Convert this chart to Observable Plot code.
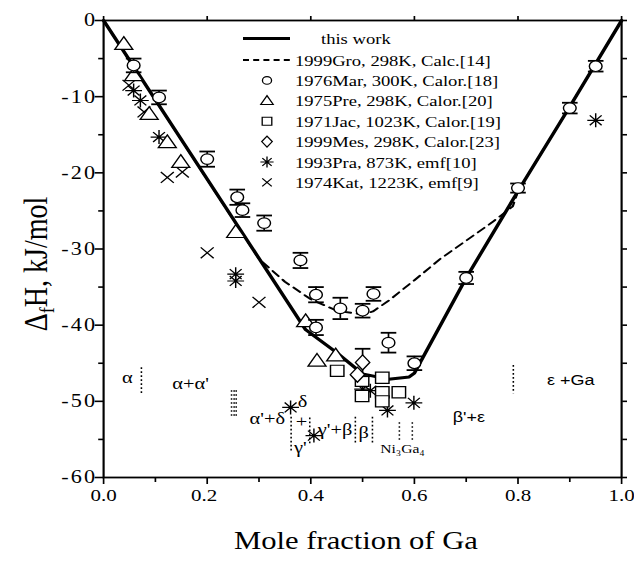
<!DOCTYPE html>
<html><head><meta charset="utf-8">
<script src="https://cdn.jsdelivr.net/npm/d3@7"></script>
<script src="https://cdn.jsdelivr.net/npm/@observablehq/plot@0.6"></script>
<style>html,body{margin:0;padding:0;background:#fff}#chart{position:relative;width:634px;height:565px;overflow:hidden}</style>
</head><body><div id="chart"></div>
<script>
// ---- data ----
const thisWorkX = [0, 0.39, 0.45, 0.5, 0.55, 0.59, 0.6, 0.7, 0.8, 0.9, 1.0];
const thisWorkY = [0, -40.6, -43.6, -46.4, -47.1, -46.8, -46.3, -33.8, -22.4, -11.3, 0];
const groX = [0, 0.3, 0.35, 0.4, 0.45, 0.5, 0.52, 0.55, 0.6, 0.65, 0.7, 0.75, 0.79, 0.8, 0.9, 1.0];
const groY = [0, -31.3, -34.3, -36.6, -38.1, -38.6, -38.2, -36.8, -34.1, -31.3, -28.9, -26.5, -24.4, -22.4, -11.3, 0];
const marX = [0.058, 0.107, 0.2, 0.258, 0.268, 0.31, 0.38, 0.41, 0.41, 0.457, 0.5, 0.521, 0.55, 0.6, 0.7, 0.8, 0.9, 0.95];
const marY = [-5.9, -10.1, -18.2, -23.2, -24.9, -26.6, -31.5, -36, -40.3, -37.8, -38.1, -35.9, -42.3, -45, -33.8, -22, -11.5, -6];
const marE = [0.9, 0.9, 1.0, 1.0, 0.9, 1.0, 1.0, 1.0, 1.0, 1.4, 0.9, 0.9, 1.3, 0.9, 0.8, 0.6, 0.7, 0.7];
const preX = [0.039, 0.058, 0.088, 0.123, 0.149, 0.255, 0.39, 0.412, 0.448];
const preY = [-3.1, -7.2, -12.3, -16, -18.6, -27.8, -39.5, -44.7, -44];
const jacX = [0.451, 0.499, 0.499, 0.538, 0.538, 0.538, 0.57];
const jacY = [-46, -49.3, -47.3, -46.9, -48.8, -50, -48.8];
const mesX = [0.5, 0.49];
const mesY = [-44.9, -46.5];
const mesE = [1.8, 0];
const praX = [0.058, 0.071, 0.107, 0.255, 0.255, 0.361, 0.406, 0.5, 0.515, 0.548, 0.599, 0.95];
const praY = [-9.2, -10.5, -15.3, -33.3, -34.2, -50.8, -54.5, -48.4, -48.6, -51.2, -50.2, -13.1];
const katX = [0.049, 0.078, 0.123, 0.152, 0.2, 0.3];
const katY = [-8.5, -12, -20.6, -19.9, -30.5, -37];
const serifLabels = ["α", "α+α'", "α'+δ", "δ", "+", "γ'", "γ'+β", "β"];
const serifX = [0.046, 0.168, 0.316, 0.384, 0.382, 0.38, 0.447, 0.502];
const serifY = [-46.9, -47.7, -52.3, -50.0, -52.6, -56.1, -53.7, -54.1];
const sansLabels = ["β'+ε", "ε +Ga"];
const sansX = [0.705, 0.902];
const sansY = [-52.1, -47.2];
const niX = [0.577], niY = [-56.3];
const boundX = [0.073, 0.247, 0.252, 0.256, 0.362, 0.398, 0.486, 0.519, 0.571, 0.596, 0.791];
const boundY1 = [-45.6, -48.6, -48.6, -48.6, -52.1, -52.2, -52.1, -52.1, -52.8, -52.8, -45.3];
const boundY2 = [-49.1, -52.1, -52.1, -52.1, -56.7, -55.6, -55.6, -55.6, -55.4, -55.4, -49.0];
const legendLabels = ["this work", "1999Gro, 298K, Calc.[14]", "1976Mar, 300K, Calor.[18]", "1975Pre, 298K, Calor.[20]",
  "1971Jac, 1023K, Calor.[19]", "1999Mes, 298K, Calor.[23]", "1993Pra, 873K, emf[10]", "1974Kat, 1223K, emf[9]"];
const xTicks = [0, 0.2, 0.4, 0.6, 0.8, 1.0];
const xMinor = [0.1, 0.3, 0.5, 0.7, 0.9];
const yTicks = [0, -10, -20, -30, -40, -50, -60];
const yMinor = [-5, -15, -25, -35, -45, -55];

// ---- build tables ----
const zip = (xs, ys) => xs.map((x, i) => ({x, y: ys[i]}));
const thisWork = zip(thisWorkX, thisWorkY);
const gro = zip(groX, groY);
const mar = marX.map((x, i) => ({x, y: marY[i], e: marE[i]}));
const mes = mesX.map((x, i) => ({x, y: mesY[i], e: mesE[i]}));
const mesBars = mes.filter(d => d.e > 0);
const pre = zip(preX, preY), jac = zip(jacX, jacY), pra = zip(praX, praY), kat = zip(katX, katY);
const serifPh = serifLabels.map((t, i) => ({t, x: serifX[i], y: serifY[i]}));
const sansPh = sansLabels.map((t, i) => ({t, x: sansX[i], y: sansY[i]}));
const bounds = boundX.map((x, i) => ({x, y1: boundY1[i], y2: boundY2[i]}));

// ---- custom symbols ----
const rad = size => Math.sqrt(size / Math.PI);
const cap = {draw(ctx, size) { const w = rad(size); ctx.moveTo(-w, 0); ctx.lineTo(w, 0); }};
const star8 = {draw(ctx, size) { const r = rad(size);
  for (let k = 0; k < 4; k++) { const a = k * Math.PI / 4; ctx.moveTo(-r * Math.cos(a), -r * Math.sin(a)); ctx.lineTo(r * Math.cos(a), r * Math.sin(a)); } }};
const cross = {draw(ctx, size) { const r = rad(size) * 0.72; ctx.moveTo(-r, -r); ctx.lineTo(r, r); ctx.moveTo(r, -r); ctx.lineTo(-r, r); }};
const tri = {draw(ctx, size) { const r = rad(size); ctx.moveTo(0, -r); ctx.lineTo(r, r * 0.7); ctx.lineTo(-r, r * 0.7); ctx.closePath(); }};
const sq = {draw(ctx, size) { const r = rad(size) * 0.8; ctx.rect(-r, -r, 2 * r, 2 * r); }};
const dia = {draw(ctx, size) { const r = rad(size); ctx.moveTo(0, -r); ctx.lineTo(r * 0.8, 0); ctx.lineTo(0, r); ctx.lineTo(-r * 0.8, 0); ctx.closePath(); }};

// the reference figure is horizontally stretched: draw narrower, then stretch
const S = 1.2, W = 634 / S;
const serif = "'Liberation Serif', 'DejaVu Serif', serif";
const sans = "'Liberation Sans', Arial, sans-serif";
const open = {fill: "white", stroke: "black", strokeWidth: 1.2};

const plot = Plot.plot({
  width: W, height: 565,
  marginLeft: 103 / S, marginRight: 13 / S, marginTop: 20, marginBottom: 88,
  x: {domain: [0, 1]},
  y: {domain: [-60, 0]},
  style: {fontFamily: serif, fontSize: "18px", color: "black", background: "white", overflow: "visible"},
  marks: [
    Plot.axisX({ticks: xTicks, tickFormat: d3.format(".1f"), tickSize: 7, tickPadding: 4, label: null, fontSize: 17.5, strokeWidth: 1.4}),
    Plot.axisX({ticks: xMinor, tickFormat: () => "", tickSize: 5, label: null, strokeWidth: 1.4}),
    Plot.axisX({anchor: "top", ticks: xTicks, tickFormat: () => "", tickSize: 5, label: null, strokeWidth: 1.4}),
    Plot.axisY({ticks: yTicks, tickFormat: d => String(d), tickSize: 7, tickPadding: 0, label: null, fontSize: 18.5, strokeWidth: 1.6}),
    Plot.axisY({ticks: yMinor, tickFormat: () => "", tickSize: 4, label: null, strokeWidth: 1.6}),
    Plot.axisY({anchor: "right", ticks: yTicks.concat(yMinor), tickFormat: () => "", tickSize: 4, label: null, strokeWidth: 1.6}),
    Plot.frame({stroke: "black", strokeWidth: 1.8}),
    // phase boundaries and labels
    Plot.ruleX(bounds, {x: "x", y1: "y1", y2: "y2", stroke: "black", strokeWidth: 1.3, strokeDasharray: "1.6,2.4"}),
    Plot.text(serifPh, {x: "x", y: "y", text: "t", fontSize: 17, fill: "black"}),
    Plot.text(sansPh, {x: "x", y: "y", text: "t", fontSize: 15, fontFamily: sans, fill: "black"}),
    Plot.text(zip(niX, niY), {x: "x", y: "y", text: () => "Ni₃Ga₄", fontSize: 13, fill: "black"}),
    // curves
    Plot.line(gro, {x: "x", y: "y", stroke: "black", strokeWidth: 1.9, strokeDasharray: "7,5"}),
    Plot.line(thisWork, {x: "x", y: "y", stroke: "black", strokeWidth: 3}),
    // data sets
    Plot.dot(kat, {x: "x", y: "y", symbol: cross, r: 7.5, fill: "none", stroke: "black", strokeWidth: 1.2}),
    Plot.dot(pra, {x: "x", y: "y", symbol: star8, r: 7, fill: "none", stroke: "black", strokeWidth: 1.2}),
    Plot.dot(pre, {x: "x", y: "y", symbol: tri, r: 7.5, ...open}),
    Plot.dot(jac, {x: "x", y: "y", symbol: sq, r: 7, ...open}),
    Plot.ruleX(mesBars, {x: "x", y1: d => d.y - d.e, y2: d => d.y + d.e, stroke: "black", strokeWidth: 1.4}),
    Plot.dot(mesBars, {x: "x", y: d => d.y + d.e, symbol: cap, r: 6.5, fill: "none", stroke: "black", strokeWidth: 1.8}),
    Plot.dot(mesBars, {x: "x", y: d => d.y - d.e, symbol: cap, r: 6.5, fill: "none", stroke: "black", strokeWidth: 1.8}),
    Plot.dot(mes, {x: "x", y: "y", symbol: dia, r: 7.5, ...open}),
    Plot.ruleX(mar, {x: "x", y1: d => d.y - d.e, y2: d => d.y + d.e, stroke: "black", strokeWidth: 1.4}),
    Plot.dot(mar, {x: "x", y: d => d.y + d.e, symbol: cap, r: 6.5, fill: "none", stroke: "black", strokeWidth: 1.8}),
    Plot.dot(mar, {x: "x", y: d => d.y - d.e, symbol: cap, r: 6.5, fill: "none", stroke: "black", strokeWidth: 1.8}),
    Plot.dot(mar, {x: "x", y: "y", symbol: "circle", r: 5.3, ...open})
  ]
});
plot.setAttribute("width", 634);
plot.setAttribute("height", 565);
plot.setAttribute("viewBox", `0 0 ${W} 565`);
plot.setAttribute("preserveAspectRatio", "none");
plot.style.width = "634px";
plot.style.height = "565px";
plot.style.maxWidth = "none";
document.getElementById("chart").appendChild(plot);

const svg = d3.select(plot);
// wide y tick numerals as in the reference; keep the last x label inside the page
svg.selectAll('g[aria-label="y-axis tick label"] text').attr("letter-spacing", 1.8).attr("dx", 1.8);
svg.selectAll('g[aria-label="x-axis tick label"] text').filter(d => d === 1).attr("dx", -2.5);

// ---- legend, axis titles (pixel layout, divided by the stretch) ----
const lg = svg.append("g").attr("font-family", serif).attr("font-size", 15.5).attr("fill", "black").attr("text-anchor", "start");
const rowY = i => i === 0 ? 38.5 : 60 + (i - 1) * 20.4;
lg.append("line").attr("x1", 243 / S).attr("x2", 290 / S).attr("y1", rowY(0)).attr("y2", rowY(0)).attr("stroke", "black").attr("stroke-width", 3);
lg.append("line").attr("x1", 243 / S).attr("x2", 293 / S).attr("y1", rowY(1)).attr("y2", rowY(1)).attr("stroke", "black").attr("stroke-width", 2).attr("stroke-dasharray", "5,3.5");
const legSyms = [null, null, d3.symbolCircle, tri, sq, dia, star8, cross];
const legR = [0, 0, 3.8, 5.2, 5, 5.5, 5.5, 5.5];
legSyms.forEach((s, i) => {
  if (!s) return;
  const size = Math.PI * legR[i] * legR[i];
  lg.append("path").attr("d", d3.symbol(s, size)()).attr("transform", `translate(${267 / S},${rowY(i)})`)
    .attr("fill", i <= 5 ? "white" : "none").attr("stroke", "black").attr("stroke-width", 1.1);
});
legendLabels.forEach((t, i) => {
  lg.append("text").attr("x", (i === 0 ? 321 : 295) / S).attr("y", rowY(i)).attr("dy", "0.36em").text(t);
});
svg.append("text").attr("x", 356 / S).attr("y", 549).attr("text-anchor", "middle").attr("font-family", serif)
  .attr("font-size", 25.5).attr("fill", "black").text("Mole fraction of Ga");
const yl = svg.append("text").attr("transform", `translate(${47 / S},264) rotate(-90)`).attr("text-anchor", "middle")
  .attr("font-family", serif).attr("font-size", 28).attr("fill", "black");
yl.append("tspan").text("Δ");
yl.append("tspan").attr("font-size", 18).attr("dy", 6).text("f");
yl.append("tspan").attr("dy", -6).text("H, kJ/mol");
</script>
</body></html>
